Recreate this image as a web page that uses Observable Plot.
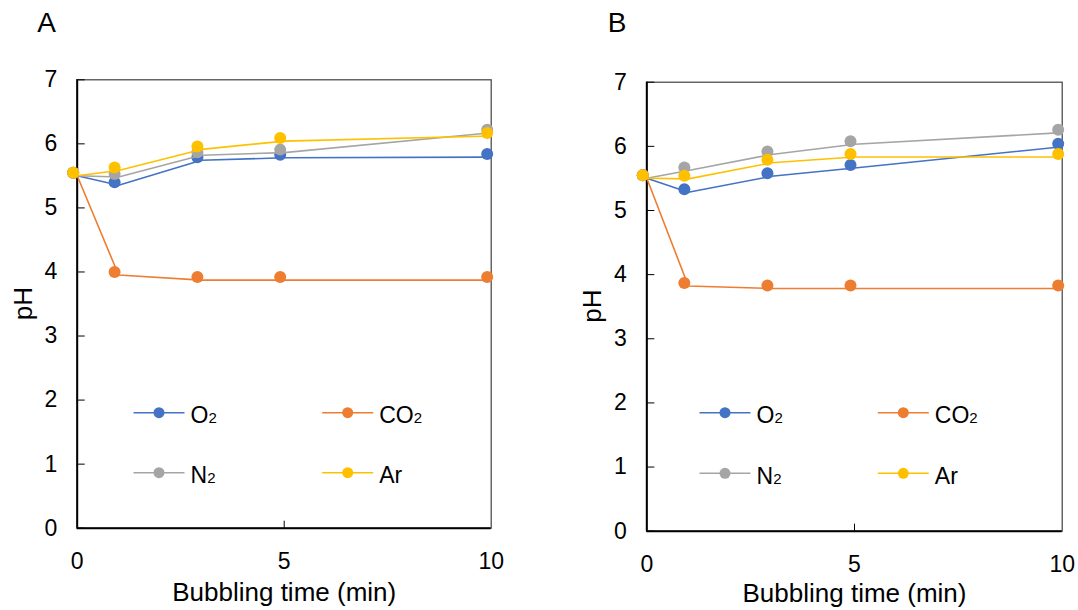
<!DOCTYPE html>
<html><head><meta charset="utf-8">
<script src="https://cdn.jsdelivr.net/npm/d3@7"></script>
<script src="https://cdn.jsdelivr.net/npm/@observablehq/plot@0.6"></script>
<style>
body{margin:0;background:#fff;}
#wrap{position:relative;width:1078px;height:610px;display:flex;}
svg{font-family:"Liberation Sans",Arial,Helvetica,sans-serif;}
</style></head><body><div id="wrap"></div>
<script>
// ---- data ----
const times = [0, 1, 3, 5, 10];
const gases = ["O2", "CO2", "N2", "Ar"];
const legendMain = ["O", "CO", "N", "Ar"];
const legendSub = ["2", "2", "2", ""];
const colors = ["#4472C4", "#ED7D31", "#A5A5A5", "#FFC000"];
const yTicks = [0, 1, 2, 3, 4, 5, 6, 7];
const xTicks = [0, 5, 10];

const panelA_O2  = [5.55, 5.40, 5.79, 5.83, 5.84];
const panelA_CO2 = [5.55, 4.00, 3.92, 3.92, 3.92];
const panelA_N2  = [5.55, 5.53, 5.87, 5.91, 6.22];
const panelA_Ar  = [5.55, 5.63, 5.96, 6.09, 6.17];

const panelB_O2  = [5.55, 5.33, 5.58, 5.71, 6.04];
const panelB_CO2 = [5.55, 3.87, 3.83, 3.83, 3.83];
const panelB_N2  = [5.55, 5.67, 5.92, 6.08, 6.26];
const panelB_Ar  = [5.55, 5.54, 5.79, 5.88, 5.88];

const FONT = '"Liberation Sans",Arial,Helvetica,sans-serif';

function panel(cfg) {
  const rows = [];
  cfg.series.forEach((vals, i) => vals.forEach((v, j) => rows.push({gas: gases[i], t: times[j], pH: v})));
  const marks = [
    Plot.frame({stroke: "#404040", strokeWidth: 1.2}),
    Plot.ruleX([0], {stroke: "#000", strokeWidth: 2}),
    Plot.ruleY([0], {stroke: "#000", strokeWidth: 2}),
    Plot.axisY({ticks: yTicks, tickSize: 8, dx: 8, tickFormat: () => "", label: null, stroke: "#000"}),
    Plot.axisY({ticks: yTicks, tickSize: 0, tickPadding: 20, tickFormat: d => String(d), label: null, fontSize: 23, fill: "#000"}),
    Plot.axisX({ticks: [5], tickSize: 7, dy: -7, tickFormat: () => "", label: null, stroke: "#000"}),
    Plot.axisX({ticks: xTicks, tickSize: 0, tickPadding: 24, tickFormat: d => String(d), label: null, fontSize: 23, fill: "#000"}),
    Plot.text(["Bubbling time (min)"], {text: d => d, frameAnchor: "bottom", lineAnchor: "top", dy: cfg.xlabDy, fontSize: 26, fill: "#000"}),
    Plot.text([cfg.title], {text: d => d, frameAnchor: "top-left", textAnchor: "start", lineAnchor: "top", dx: cfg.titleDx, dy: cfg.titleDy, fontSize: 28, fill: "#000"})
  ];
  gases.forEach((g, i) => {
    const d = rows.filter(r => r.gas === g);
    marks.push(Plot.line(d, {x: "t", y: "pH", stroke: colors[i], strokeWidth: 1.6, dy: 3}));
    marks.push(Plot.dot(d, {x: "t", y: "pH", fill: colors[i], r: 6, dx: -4}));
  });
  const W = 539, H = 610;
  const svg = Plot.plot({
    width: W, height: H,
    marginLeft: cfg.ml, marginRight: cfg.mr, marginTop: cfg.mt, marginBottom: cfg.mb,
    style: {fontFamily: FONT, background: "#fff", overflow: "visible"},
    x: {domain: [0, 10], axis: null},
    y: {domain: [0, 7], axis: null},
    marks
  });
  const sel = d3.select(svg);
  // y-axis title
  const cyMid = cfg.mt + (H - cfg.mt - cfg.mb) / 2;
  sel.append("text")
    .attr("transform", `translate(${cfg.ml - 54},${cyMid}) rotate(-90)`)
    .attr("text-anchor", "middle").attr("dy", "0.35em")
    .attr("font-family", FONT).attr("font-size", 26).attr("fill", "#000")
    .text("pH");
  // legend inside the frame
  const g = sel.append("g").attr("font-family", FONT).attr("font-size", 23)
    .attr("fill", "#000").attr("text-anchor", "start");
  gases.forEach((name, i) => {
    const col = i % 2, row = Math.floor(i / 2);
    const cx = cfg.ml + cfg.legCols[col], cy = cfg.mt + cfg.legRows[row];
    g.append("line").attr("x1", cx - 25.5).attr("x2", cx + 25.5).attr("y1", cy).attr("y2", cy)
      .attr("stroke", colors[i]).attr("stroke-width", 1.6);
    g.append("circle").attr("cx", cx).attr("cy", cy).attr("r", 5.5).attr("fill", colors[i]);
    const t = g.append("text").attr("x", cx + 31.5).attr("y", cy + 10.5).attr("text-anchor", "start");
    t.append("tspan").text(legendMain[i]);
    if (legendSub[i]) t.append("tspan").attr("font-size", 15).text(legendSub[i]);
  });
  return svg;
}

const wrap = document.getElementById("wrap");
wrap.appendChild(panel({
  title: "A",
  series: [panelA_O2, panelA_CO2, panelA_N2, panelA_Ar],
  ml: 76.7, mr: 48.3, mt: 79.3, mb: 82.3,
  titleDx: -40, titleDy: -67.6, xlabDy: 54,
  legCols: [82.3, 271], legRows: [333.4, 393.4]
}));
wrap.appendChild(panel({
  title: "B",
  series: [panelB_O2, panelB_CO2, panelB_N2, panelB_Ar],
  ml: 107.3, mr: 16.3, mt: 81.7, mb: 79.3,
  titleDx: -39, titleDy: -70, xlabDy: 52,
  legCols: [78.7, 257], legRows: [331, 391.6]
}));
</script></body></html>
